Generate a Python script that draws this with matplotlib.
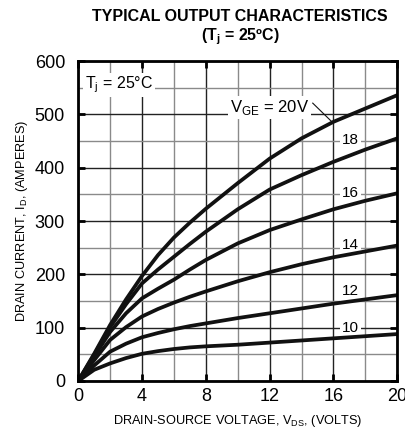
import numpy as np
import matplotlib
matplotlib.use('Agg')
import matplotlib.pyplot as plt
from matplotlib.ticker import MultipleLocator

plt.rcParams['font.family'] = ['Liberation Sans', 'DejaVu Sans']
plt.rcParams['mathtext.fontset'] = 'custom'
plt.rcParams['mathtext.rm'] = 'Liberation Sans'
plt.rcParams['mathtext.bf'] = 'Liberation Sans:bold'

# V_DS (volts)
vds = [0, 1, 2, 3, 4, 5, 6, 7, 8, 10, 12, 14, 16, 18, 20]
# I_D (amperes) per gate voltage
id_20 = [0, 51, 105, 153, 197, 236, 269, 297, 323, 371, 417, 455, 486, 511, 536]
id_18 = [0, 49, 101, 144, 183, 209, 233, 257, 280, 322, 359, 386, 411, 434, 455]
id_16 = [0, 46, 92, 127, 155, 173, 190, 209, 227, 258, 283, 303, 322, 338, 352]
id_14 = [0, 39, 77, 101, 121, 135, 147, 158, 168, 187, 204, 219, 232, 243, 254]
id_12 = [0, 29, 55, 70, 82, 90, 97, 103, 108, 118, 127, 136, 145, 153, 161]
id_10 = [0, 21, 33, 43, 51, 56, 60, 63, 65, 68, 72, 76, 80, 84, 88]
curves = [id_20, id_18, id_16, id_14, id_12, id_10]

fig = plt.figure(figsize=(4.06, 4.33), dpi=100)
ax = fig.add_axes([0.1926, 0.1201, 0.786, 0.739])

for c in curves:
    ax.plot(vds, c, color='#111111', lw=2.7, solid_capstyle='butt', zorder=4)

ax.set_xlim(0, 20)
ax.set_ylim(0, 600)
ax.xaxis.set_major_locator(MultipleLocator(4))
ax.xaxis.set_minor_locator(MultipleLocator(2))
ax.yaxis.set_major_locator(MultipleLocator(100))
ax.yaxis.set_minor_locator(MultipleLocator(50))
ax.grid(which='major', color='#222222', lw=1.0, zorder=1)
ax.grid(which='minor', color='#8a8a8a', lw=1.0, zorder=1)
ax.tick_params(which='major', direction='in', length=5, width=2,
               top=True, right=True, labelsize=13, pad=5)
ax.tick_params(axis='y', pad=9.5)
ax.tick_params(which='minor', length=0)
for s in ax.spines.values():
    s.set_linewidth(2)
    s.set_zorder(5)

ax.set_xlabel('DRAIN-SOURCE VOLTAGE, V$_\\mathregular{DS}$, (VOLTS)', fontsize=9.2, labelpad=6)
ax.set_ylabel('DRAIN CURRENT, I$_\\mathregular{D}$, (AMPERES)', fontsize=9.2, labelpad=3)

box = dict(facecolor='white', edgecolor='none', pad=1.5)
ax.text(0.4, 555, 'T$_\\mathregular{j}$ = 25°C', fontsize=11.5, ha='left', va='center', bbox=box, zorder=3)
ax.text(12.0, 512, 'V$_\\mathregular{GE}$ = 20V', fontsize=12, ha='center', va='center', bbox=box, zorder=3)
ax.plot([14.7, 15.9], [521, 486], color='#111111', lw=0.8, zorder=4)
for lab, y in [('18', 452), ('16', 352), ('14', 255), ('12', 168), ('10', 100)]:
    ax.text(17.05, y, lab, fontsize=11, ha='center', va='center', bbox=box, zorder=3)

fig.text(0.591, 0.979, 'TYPICAL OUTPUT CHARACTERISTICS', fontsize=11.5, fontweight='bold',
         ha='center', va='top')
fig.text(0.591, 0.938, '(T$_\\mathregular{j}$ = 25ºC)', fontsize=11.5, fontweight='bold',
         ha='center', va='top')

fig.savefig('out.png', dpi=100)
